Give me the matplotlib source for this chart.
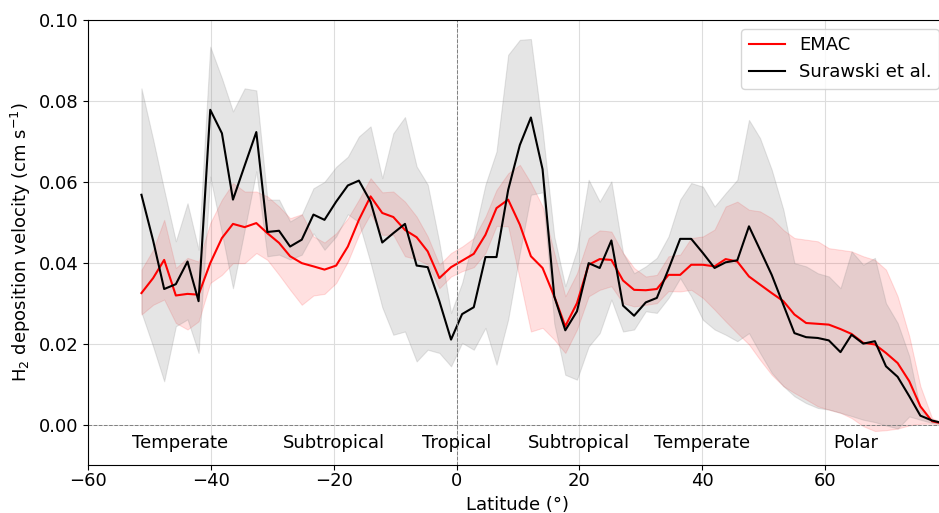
import matplotlib
matplotlib.use("Agg")
import matplotlib.pyplot as plt
from matplotlib.ticker import FormatStrFormatter

# Latitude of each model grid row (degrees north)
latitude = [
    -51.3, -49.4, -47.6, -45.7, -43.8, -42.0, -40.1, -38.2, -36.4, -34.5,
    -32.6, -30.8, -28.9, -27.1, -25.2, -23.3, -21.5, -19.6, -17.7, -15.9,
    -14.0, -12.1, -10.3, -8.4, -6.5, -4.7, -2.8, -0.9, 0.9, 2.8,
    4.7, 6.5, 8.4, 10.3, 12.1, 14.0, 15.9, 17.7, 19.6, 21.5,
    23.3, 25.2, 27.1, 28.9, 30.8, 32.6, 34.5, 36.4, 38.2, 40.1,
    42.0, 43.8, 45.7, 47.6, 49.4, 51.3, 53.2, 55.0, 56.9, 58.8,
    60.6, 62.5, 64.3, 66.2, 68.1, 69.9, 71.8, 73.7, 75.5, 77.4, 79.3,
]

# EMAC zonal mean H2 deposition velocity and its spread (cm s-1)
emac_mean = [
    0.0325, 0.0362, 0.0407, 0.0319, 0.0323, 0.0321, 0.0399, 0.0461, 0.0496, 0.0488,
    0.0498, 0.0473, 0.0449, 0.0416, 0.0399, 0.0391, 0.0383, 0.0393, 0.0440, 0.0506,
    0.0564, 0.0523, 0.0513, 0.0481, 0.0463, 0.0428, 0.0362, 0.0389, 0.0405, 0.0422,
    0.0469, 0.0535, 0.0556, 0.0494, 0.0416, 0.0387, 0.0317, 0.0243, 0.0300, 0.0395,
    0.0409, 0.0407, 0.0356, 0.0333, 0.0332, 0.0335, 0.0370, 0.0370, 0.0395, 0.0395,
    0.0391, 0.0409, 0.0403, 0.0366, 0.0346, 0.0325, 0.0305, 0.0272, 0.0251, 0.0249,
    0.0247, 0.0236, 0.0224, 0.0202, 0.0198, 0.0177, 0.0152, 0.0107, 0.0045, 0.0008, 0.0002,
]
emac_upper = [
    0.0383, 0.0432, 0.0506, 0.0387, 0.0412, 0.0403, 0.0498, 0.0556, 0.0597, 0.0576,
    0.0576, 0.0564, 0.0539, 0.0510, 0.0520, 0.0465, 0.0450, 0.0473, 0.0510, 0.0556,
    0.0609, 0.0574, 0.0576, 0.0551, 0.0514, 0.0465, 0.0395, 0.0424, 0.0440, 0.0461,
    0.0514, 0.0580, 0.0621, 0.0642, 0.0597, 0.0539, 0.0424, 0.0317, 0.0374, 0.0461,
    0.0480, 0.0477, 0.0424, 0.0387, 0.0366, 0.0370, 0.0416, 0.0420, 0.0461, 0.0465,
    0.0482, 0.0539, 0.0551, 0.0531, 0.0527, 0.0510, 0.0481, 0.0461, 0.0457, 0.0453,
    0.0436, 0.0432, 0.0428, 0.0416, 0.0407, 0.0383, 0.0317, 0.0218, 0.0095, 0.0016, 0.0003,
]
emac_lower = [
    0.0272, 0.0296, 0.0309, 0.0251, 0.0235, 0.0255, 0.0350, 0.0370, 0.0399, 0.0399,
    0.0424, 0.0407, 0.0370, 0.0333, 0.0296, 0.0319, 0.0323, 0.0350, 0.0403, 0.0469,
    0.0521, 0.0469, 0.0469, 0.0416, 0.0409, 0.0395, 0.0337, 0.0366, 0.0379, 0.0389,
    0.0424, 0.0491, 0.0490, 0.0358, 0.0230, 0.0239, 0.0210, 0.0177, 0.0235, 0.0317,
    0.0333, 0.0342, 0.0300, 0.0292, 0.0296, 0.0300, 0.0330, 0.0329, 0.0333, 0.0313,
    0.0284, 0.0255, 0.0226, 0.0198, 0.0160, 0.0123, 0.0095, 0.0078, 0.0062, 0.0045,
    0.0037, 0.0029, 0.0016, -0.0004, -0.0016, -0.0014, -0.0010, -0.0002, 0.0002, 0.0002, 0.0001,
]

# Surawski et al. zonal mean and its spread (cm s-1)
surawski_mean = [
    0.0568, 0.0455, 0.0335, 0.0347, 0.0403, 0.0305, 0.0778, 0.0720, 0.0556, 0.0640,
    0.0723, 0.0476, 0.0479, 0.0440, 0.0457, 0.0519, 0.0506, 0.0551, 0.0591, 0.0603,
    0.0551, 0.0450, 0.0473, 0.0496, 0.0393, 0.0389, 0.0305, 0.0210, 0.0273, 0.0290,
    0.0414, 0.0414, 0.0580, 0.0691, 0.0759, 0.0631, 0.0317, 0.0233, 0.0280, 0.0399,
    0.0387, 0.0455, 0.0294, 0.0269, 0.0302, 0.0313, 0.0384, 0.0459, 0.0459, 0.0424,
    0.0387, 0.0401, 0.0406, 0.0490, 0.0432, 0.0370, 0.0296, 0.0226, 0.0216, 0.0214,
    0.0208, 0.0179, 0.0222, 0.0200, 0.0206, 0.0144, 0.0118, 0.0070, 0.0022, 0.0010, 0.0003,
]
surawski_upper = [
    0.0831, 0.0705, 0.0580, 0.0453, 0.0547, 0.0432, 0.0934, 0.0856, 0.0774, 0.0831,
    0.0826, 0.0556, 0.0556, 0.0502, 0.0519, 0.0584, 0.0600, 0.0637, 0.0662, 0.0712,
    0.0737, 0.0609, 0.0720, 0.0760, 0.0638, 0.0593, 0.0450, 0.0276, 0.0350, 0.0465,
    0.0593, 0.0675, 0.0914, 0.0951, 0.0953, 0.0728, 0.0465, 0.0342, 0.0432, 0.0605,
    0.0551, 0.0601, 0.0424, 0.0374, 0.0391, 0.0412, 0.0465, 0.0556, 0.0597, 0.0588,
    0.0539, 0.0572, 0.0605, 0.0753, 0.0708, 0.0630, 0.0531, 0.0399, 0.0391, 0.0374,
    0.0366, 0.0337, 0.0428, 0.0395, 0.0412, 0.0300, 0.0251, 0.0169, 0.0037, 0.0008, 0.0003,
]
surawski_lower = [
    0.0277, 0.0193, 0.0107, 0.0243, 0.0260, 0.0177, 0.0613, 0.0473, 0.0337, 0.0481,
    0.0626, 0.0416, 0.0420, 0.0408, 0.0420, 0.0473, 0.0432, 0.0465, 0.0520, 0.0500,
    0.0400, 0.0290, 0.0222, 0.0230, 0.0156, 0.0185, 0.0177, 0.0144, 0.0202, 0.0185,
    0.0239, 0.0148, 0.0260, 0.0424, 0.0568, 0.0574, 0.0250, 0.0123, 0.0111, 0.0193,
    0.0226, 0.0309, 0.0230, 0.0235, 0.0280, 0.0276, 0.0313, 0.0362, 0.0317, 0.0259,
    0.0235, 0.0222, 0.0206, 0.0226, 0.0177, 0.0128, 0.0095, 0.0070, 0.0053, 0.0041,
    0.0037, 0.0029, 0.0021, 0.0012, 0.0006, -0.0002, -0.0010, 0.0020, 0.0012, 0.0004, 0.0002,
]

# Climate zone annotations
zone_names = ["Temperate", "Subtropical", "Tropical", "Subtropical", "Temperate", "Polar"]
zone_centres = [-45, -20, 0, 20, 40, 65]

plt.rcParams["font.family"] = ["DejaVu Sans"]
plt.rcParams["font.size"] = 13

fig = plt.figure(figsize=(9.39, 5.13), dpi=100)
ax = fig.add_axes([88 / 939, 48 / 513, 860 / 939, 445 / 513])

ax.grid(True, color="#dddddd", linewidth=0.8)
ax.set_axisbelow(True)

ax.fill_between(latitude, emac_lower, emac_upper, color="red", alpha=0.12, linewidth=0.8)
ax.fill_between(latitude, surawski_lower, surawski_upper, color="gray", alpha=0.2, linewidth=0.8)
ax.plot(latitude, emac_mean, color="red", linewidth=1.5, label="EMAC")
ax.plot(latitude, surawski_mean, color="black", linewidth=1.5, label="Surawski et al.")

ax.axhline(0, color="gray", linestyle="--", linewidth=0.7)
ax.axvline(0, color="gray", linestyle="--", linewidth=0.7)

for name, centre in zip(zone_names, zone_centres):
    ax.text(centre, -0.0045, name, ha="center", va="center", fontsize=13)

ax.set_xlim(-60, 80)
ax.set_ylim(-0.01, 0.10)
ax.set_xticks([-60, -40, -20, 0, 20, 40, 60])
ax.set_yticks([0.0, 0.02, 0.04, 0.06, 0.08, 0.10])
ax.yaxis.set_major_formatter(FormatStrFormatter("%.2f"))
ax.tick_params(axis="x", pad=1.5)

ax.set_xlabel("Latitude (°)", labelpad=4)
ax.set_ylabel("H$_2$ deposition velocity (cm s$^{-1}$)")

ax.legend(loc="upper right", fontsize=13)

fig.savefig("out.png", dpi=100)
